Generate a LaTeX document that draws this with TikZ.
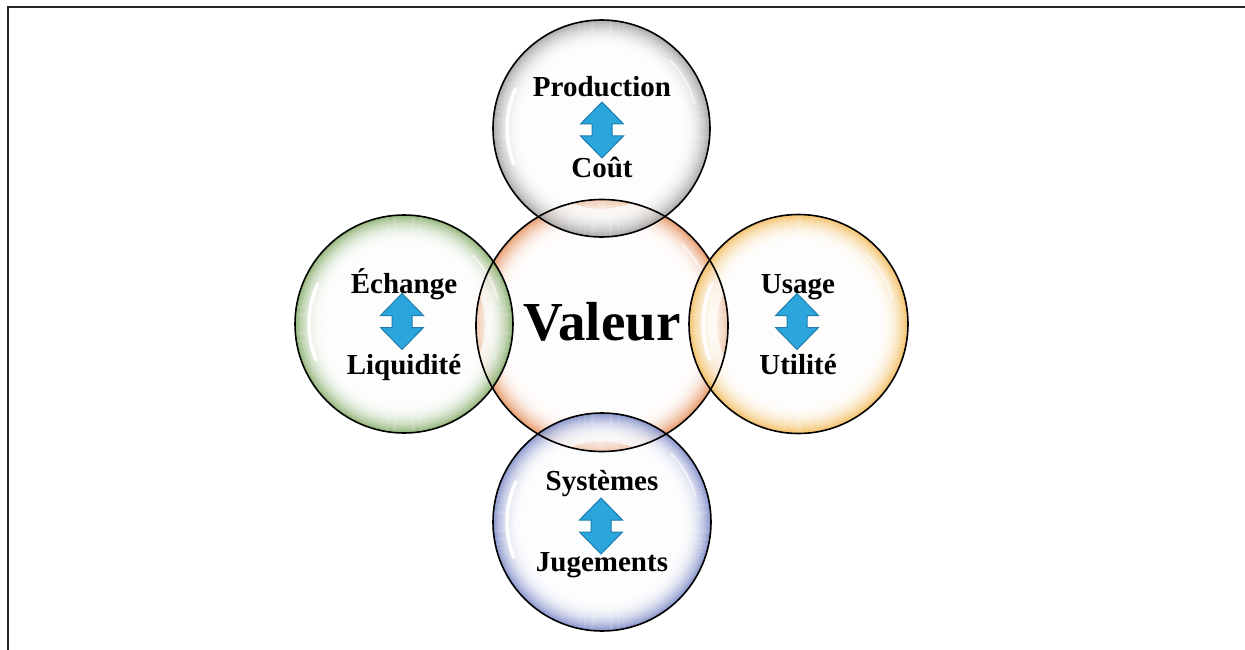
\documentclass[tikz,border=0pt]{standalone}
\usepackage{fontspec}
\setmainfont{Liberation Serif}
\definecolor{cgray}{HTML}{8E8E8E}
\definecolor{corange}{HTML}{E07A3A}
\definecolor{cgreen}{HTML}{6E9E4E}
\definecolor{cyellow}{HTML}{F0AE3A}
\definecolor{cblue}{HTML}{6272BC}
\definecolor{arrowfill}{HTML}{2AA6DC}
\definecolor{arrowline}{HTML}{1F7DAE}
\definecolor{framecol}{HTML}{262626}
\newcommand\glassbubble[3]{% centre, radius, colour
  \fill[#3!3!white, fill opacity=0.5] (#1) circle (#2);
  \begin{scope}[transparency group, opacity=0.8]
    \foreach \k in {0,...,27}{
      \pgfmathtruncatemacro\pc{3+92*(1-\k/27)^2.2}
      \draw[line width=1.25pt, draw=#3!\pc!white] (#1) circle ({#2-0.55-\k});
    }
    \draw[shine] ([shift={(205:#2-14)}]#1) arc (205:158:#2-14);
    \draw[shine, line width=2pt, opacity=0.6] ([shift={(-15:#2-12)}]#1) arc (-15:-45:#2-12);
  \end{scope}
}
\tikzset{
  rim/.style={draw=black, line width=1.6pt},
  shine/.style={white, line width=3.5pt, line cap=round},
  lbl/.style={font=\fontsize{29}{31}\selectfont\bfseries, anchor=base, inner sep=0pt},
  biglbl/.style={font=\fontsize{55}{57}\selectfont\bfseries, anchor=base, inner sep=0pt},
  pics/darrow/.style={code={
    \draw[fill=arrowfill, draw=arrowline, line width=1pt, line join=miter]
      (0,-28) -- (21.5,-6) -- (10,-6) -- (10,6) -- (21.5,6) -- (0,28)
      -- (-21.5,6) -- (-10,6) -- (-10,-6) -- (-21.5,-6) -- cycle;
  }}
}
\begin{document}
\begin{tikzpicture}[x=1pt, y=-1pt]
\useasboundingbox (0,0) rectangle (1245,650);
% frame
\draw[framecol, line width=2pt] (8,650) -- (8,7) -- (1245,7);
% centres
\coordinate (ctop) at (601.5,128.5);
\coordinate (cmid) at (602,325.5);
\coordinate (cleft) at (404,324);
\coordinate (cright) at (798.5,324);
\coordinate (cbot) at (602,522);
% bubbles
\glassbubble{cmid}{126}{corange}
\glassbubble{ctop}{108.5}{cgray}
\glassbubble{cleft}{109}{cgreen}
\glassbubble{cright}{109.5}{cyellow}
\glassbubble{cbot}{109}{cblue}
% rims
\draw[rim] (cmid) circle (126);
\draw[rim] (ctop) circle (108.5);
\draw[rim] (cleft) circle (109);
\draw[rim] (cright) circle (109.5);
\draw[rim] (cbot) circle (109);
% labels
\node[biglbl] (valeur) at (602,340) {Valeur};
\node[lbl] (prod) at (602,97) {Production};
\node[lbl] (cout) at (602,177) {Coût};
\pic at (602,130) {darrow};
\node[lbl] (ech) at (404,293) {Échange};
\node[lbl] (liq) at (404,374) {Liquidité};
\pic at (402,321.5) {darrow};
\node[lbl] (usage) at (798,293) {Usage};
\node[lbl] (util) at (798,374) {Utilité};
\pic at (797,321.5) {darrow};
\node[lbl] (sys) at (602,490) {Systèmes};
\node[lbl] (jug) at (602,571) {Jugements};
\pic at (601,526) {darrow};
\end{tikzpicture}
\end{document}
